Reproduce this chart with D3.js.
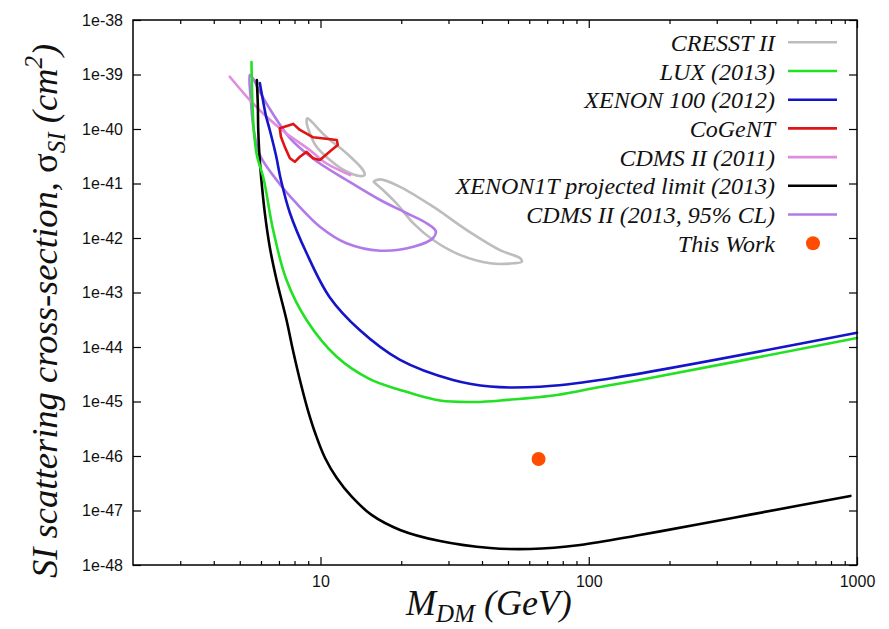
<!DOCTYPE html>
<html>
<head>
<meta charset="utf-8">
<script src="https://cdn.jsdelivr.net/npm/d3@7/dist/d3.min.js"></script>
<style>
  html, body { margin: 0; padding: 0; background: #fff; }
  svg { display: block; }
  .tick text { font-family: "Liberation Sans", Arial, sans-serif; font-size: 16px; fill: #111; }
  .tick line { stroke: #000; stroke-width: 1.2; }
  .domain { display: none; }
</style>
</head>
<body>
<svg id="chart" width="889" height="629"></svg>
<script>
// Mass axis (GeV) and cross-section axis (cm^2)
const xDomain = [2, 1000];
const yDomain = [1e-48, 1e-38];
const xMajorTicks = [10, 100, 1000];
const xMajorLabels = ["10", "100", "1000"];
const xMinorTicks = [3, 4, 5, 6, 7, 8, 9, 20, 30, 40, 50, 60, 70, 80, 90, 200, 300, 400, 500, 600, 700, 800, 900];
const yTicks = [1e-48, 1e-47, 1e-46, 1e-45, 1e-44, 1e-43, 1e-42, 1e-41, 1e-40, 1e-39, 1e-38];
const yTickLabels = ["1e-48", "1e-47", "1e-46", "1e-45", "1e-44", "1e-43", "1e-42", "1e-41", "1e-40", "1e-39", "1e-38"];

// [mass GeV, sigma cm^2]
const cresstUpper = [
  [8.92, 1.57e-40], [9.13, 1.46e-40], [10.5, 7.2e-41], [12.5, 3.6e-41], [14.4, 1.77e-41],
  [14.6, 1.43e-41], [14.0, 1.37e-41], [12.2, 1.77e-41], [10.5, 3.1e-41], [9.67, 4.7e-41],
  [9.13, 8.3e-41], [8.87, 1.36e-40]
];
const cresstLower = [
  [15.8, 1.08e-41], [16.7, 1.19e-41], [19.8, 8.7e-42], [26.3, 3.75e-42], [35.1, 1.40e-42],
  [46.7, 6.0e-43], [55.5, 4.25e-43], [56.3, 3.67e-43], [52.4, 3.43e-43], [42.9, 3.43e-43],
  [33.1, 4.9e-43], [26.3, 9.2e-43], [22.2, 1.86e-42], [19.2, 4.3e-42], [17.1, 7.6e-42],
  [16.0, 1.01e-41]
];
const lux2013 = [
  [5.53, 1.69e-39], [5.57, 3.4e-40], [5.64, 9.6e-41], [5.79, 3.33e-41], [6.15, 1.16e-41],
  [6.66, 1.40e-42], [7.47, 1.69e-43], [8.87, 3.13e-44], [11.5, 6.6e-45], [15.2, 2.6e-45],
  [19.8, 1.63e-45], [27.9, 1.04e-45], [37.7, 9.8e-46], [49.6, 1.07e-45], [76.2, 1.32e-45],
  [110, 1.85e-45], [155, 2.48e-45], [1000, 1.46e-44]
];
const xenon100 = [
  [5.94, 7.0e-40], [6.10, 3.4e-40], [6.25, 1.81e-40], [6.47, 9.6e-41], [6.82, 3.33e-41],
  [7.12, 1.16e-41], [7.69, 2.88e-42], [8.87, 5.3e-43], [10.8, 8.3e-44], [14.0, 2.05e-44],
  [19.8, 5.8e-45], [31.2, 2.48e-45], [42.9, 1.88e-45], [65.9, 1.87e-45], [110, 2.48e-45],
  [1000, 1.83e-44]
];
const cogent = [
  [7.05, 1.03e-40], [7.91, 1.24e-40], [8.38, 9.6e-41], [9.39, 7.05e-41], [11.5, 6.3e-41],
  [11.6, 5.1e-41], [11.0, 4.1e-41], [9.95, 2.7e-41], [9.39, 2.9e-41], [8.87, 3.8e-41],
  [8.38, 3.1e-41], [8.02, 2.5e-41], [7.69, 2.9e-41], [7.36, 4.7e-41], [7.12, 7.2e-41]
];
const cdms2011 = [
  [4.59, 9.1e-40], [5.45, 3.4e-40], [6.29, 1.68e-40], [7.47, 8.3e-41], [9.13, 4.1e-41],
  [10.5, 2.35e-41], [12.9, 1.43e-41]
];
const xenon1t = [
  [5.79, 7.9e-40], [5.84, 2.75e-40], [5.86, 9.6e-41], [5.92, 3.33e-41], [6.02, 1.16e-41],
  [6.20, 2.88e-42], [6.47, 6.8e-43], [6.86, 1.69e-43], [7.47, 3.13e-44], [7.89, 8.8e-45],
  [8.38, 2.48e-45], [8.97, 6.98e-46], [9.61, 2.43e-46], [10.4, 9.2e-47], [11.5, 3.94e-47],
  [13.1, 1.77e-47], [15.5, 8.3e-48], [19.8, 4.4e-48], [27.9, 2.75e-48], [42.9, 2.05e-48],
  [60.4, 1.97e-48], [92.9, 2.33e-48], [155, 3.55e-48], [260, 5.65e-48], [400, 8.4e-48],
  [615, 1.245e-47], [945, 1.85e-47]
];
const cdms2013 = [
  [5.45, 9.8e-40], [5.50, 3.4e-40], [5.64, 9.6e-41], [5.94, 3.33e-41], [6.86, 1.16e-41],
  [8.14, 4.3e-42], [9.95, 1.61e-42], [12.5, 8.0e-43], [16.7, 5.85e-43], [22.2, 6.9e-43],
  [26.3, 1.0e-42], [26.9, 1.34e-42], [24.9, 1.86e-42], [20.9, 2.88e-42], [16.7, 4.98e-42],
  [12.5, 1.16e-41], [9.53, 2.7e-41], [7.69, 6.8e-41], [6.58, 2.05e-40], [5.94, 4.8e-40],
  [5.59, 8.6e-40]
];
const thisWork = [[65, 8.8e-47]];

const legendLabels = [
  "CRESST II", "LUX (2013)", "XENON 100 (2012)", "CoGeNT", "CDMS II (2011)",
  "XENON1T projected limit (2013)", "CDMS II (2013, 95% CL)", "This Work"
];
const legendColors = ["#bdbdbd", "#22e022", "#1414c8", "#e01414", "#e08ce0", "#000000", "#b27ae8", "#ff4d00"];

const svg = d3.select("#chart");
const margin = { left: 133, right: 32, top: 20, bottom: 64 };
const W = 889, H = 629;
const x = d3.scaleLog().domain(xDomain).range([margin.left, W - margin.right]);
const y = d3.scaleLog().domain(yDomain).range([H - margin.bottom, margin.top]);

// axes with inward ticks on all four sides
const gx = svg.append("g").attr("transform", `translate(0,${y.range()[0]})`);
gx.call(d3.axisBottom(x).tickValues(xMajorTicks).tickSize(-8).tickPadding(11)
  .tickFormat((d, i) => xMajorLabels[i]));
gx.append("g").call(d3.axisBottom(x).tickValues(xMinorTicks).tickSize(-4).tickFormat(() => ""));

const gxt = svg.append("g").attr("transform", `translate(0,${y.range()[1]})`);
gxt.call(d3.axisTop(x).tickValues(xMajorTicks).tickSize(-8).tickFormat(() => ""));
gxt.append("g").call(d3.axisTop(x).tickValues(xMinorTicks).tickSize(-4).tickFormat(() => ""));

svg.append("g").attr("transform", `translate(${x.range()[0]},0)`)
  .call(d3.axisLeft(y).tickValues(yTicks).tickSize(-8).tickPadding(10)
    .tickFormat((d, i) => yTickLabels[i]));
svg.append("g").attr("transform", `translate(${x.range()[1]},0)`)
  .call(d3.axisRight(y).tickValues(yTicks).tickSize(-8).tickFormat(() => ""));

// curves
const plot = svg.append("g");
const open = d3.line().x(d => x(d[0])).y(d => y(d[1])).curve(d3.curveCatmullRom.alpha(0.5));
const closed = d3.line().x(d => x(d[0])).y(d => y(d[1])).curve(d3.curveCatmullRomClosed.alpha(0.5));
const jagged = d3.line().x(d => x(d[0])).y(d => y(d[1])).curve(d3.curveLinearClosed);

function draw(data, gen, color) {
  plot.append("path").datum(data).attr("d", gen)
    .attr("fill", "none").attr("stroke", color).attr("stroke-width", 2.6)
    .attr("stroke-linejoin", "round").attr("stroke-linecap", "round");
}
draw(cresstUpper, closed, legendColors[0]);
draw(cresstLower, closed, legendColors[0]);
draw(cdms2013, closed, legendColors[6]);
draw(cdms2011, open, legendColors[4]);
draw(xenon1t, open, legendColors[5]);
draw(lux2013, open, legendColors[1]);
draw(xenon100, open, legendColors[2]);
draw(cogent, jagged, legendColors[3]);

plot.selectAll("circle.work").data(thisWork).join("circle")
  .attr("class", "work")
  .attr("cx", d => x(d[0])).attr("cy", d => y(d[1])).attr("r", 7)
  .attr("fill", legendColors[7]);

// frame
svg.append("rect")
  .attr("x", x.range()[0]).attr("y", y.range()[1])
  .attr("width", x.range()[1] - x.range()[0]).attr("height", y.range()[0] - y.range()[1])
  .attr("fill", "none").attr("stroke", "#000").attr("stroke-width", 1.5);

// legend
const legend = svg.append("g").attr("font-family", "'Liberation Serif', 'Times New Roman', serif")
  .attr("font-style", "italic").attr("font-size", 24);
const rowY = i => 42.3 + i * 28.7;
legendLabels.forEach((label, i) => {
  legend.append("text").attr("x", 775).attr("y", rowY(i) + 8.5)
    .attr("text-anchor", "end").attr("fill", "#111").text(label);
  if (i < legendLabels.length - 1) {
    legend.append("line").attr("x1", 788).attr("x2", 837).attr("y1", rowY(i)).attr("y2", rowY(i))
      .attr("stroke", legendColors[i]).attr("stroke-width", 2.6);
  } else {
    legend.append("circle").attr("cx", 813).attr("cy", rowY(i)).attr("r", 7).attr("fill", legendColors[i]);
  }
});

// axis titles
const xt = svg.append("text").attr("x", 406).attr("y", 615)
  .attr("font-family", "'Liberation Serif', 'Times New Roman', serif")
  .attr("font-style", "italic").attr("font-size", 36).attr("fill", "#111");
xt.append("tspan").text("M");
xt.append("tspan").attr("font-size", 25).attr("dy", 7).text("DM");
xt.append("tspan").attr("dy", -7).text(" (GeV)");

const yt = svg.append("text").attr("transform", "translate(57,578) rotate(-90)")
  .attr("font-family", "'Liberation Serif', 'Times New Roman', serif")
  .attr("font-style", "italic").attr("font-size", 36.6).attr("fill", "#111");
yt.append("tspan").text("SI scattering cross-section, ");
yt.append("tspan").attr("font-style", "normal").text("σ");
yt.append("tspan").attr("font-size", 25).attr("dy", 8).text("SI");
yt.append("tspan").attr("dy", -8).text(" (cm");
yt.append("tspan").attr("font-size", 25).attr("dy", -15).text("2");
yt.append("tspan").attr("dy", 15).text(")");
</script>
</body>
</html>
